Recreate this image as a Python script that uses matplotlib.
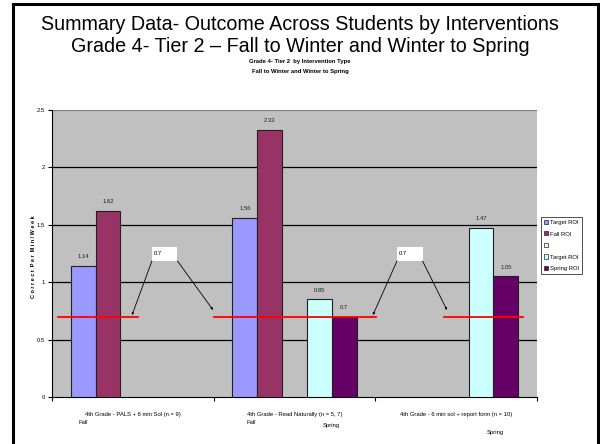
import numpy as np
import matplotlib
matplotlib.use('Agg')
import matplotlib.pyplot as plt
from matplotlib.patches import Rectangle, Patch

plt.rcParams['font.family'] = ['Liberation Sans', 'DejaVu Sans']
narrow = ['Liberation Sans Narrow', 'DejaVu Sans Condensed', 'Liberation Sans']

# data
groups = ['4th Grade - PALS + 6 min Sol (n = 9)',
          '4th Grade - Read Naturally (n = 5, 7)',
          '4th Grade - 6 min sol + report form (n = 10)']
series_names = ['Target ROI', 'Fall ROI', '', 'Target ROI', 'Spring ROI']
target_fall = [1.14, 1.56, np.nan]
fall_roi = [1.62, 2.33, np.nan]
blank = [np.nan, np.nan, np.nan]
target_spring = [np.nan, 0.85, 1.47]
spring_roi = [np.nan, 0.70, 1.05]
benchmark = 0.7
colors = ['#9999FF', '#993366', '#FFFFCC', '#CCFFFF', '#660066']

fs = 4.2

fig = plt.figure(figsize=(6, 4.44), dpi=100)
ax = fig.add_axes([52/600, 47/444, 485/600, 287/444])
ax.set_facecolor('#C0C0C0')

x = np.arange(len(groups))
w = 0.1535
all_series = [target_fall, fall_roi, blank, target_spring, spring_roi]
for k, vals in enumerate(all_series):
    pos = x + (k - 2) * w
    ax.bar(pos, vals, w, color=colors[k], edgecolor='#202020', linewidth=0.8, zorder=3)
    for p, v in zip(pos, vals):
        if not np.isnan(v):
            ax.text(p, v + 0.06, '%g' % v, ha='center', va='bottom', fontstretch='condensed',
                    fontsize=fs, family=narrow, color='#202020', zorder=4)

# target lines
for x0, x1 in [(-0.463, 0.032), (0.502, 1.504), (1.924, 2.413)]:
    ax.plot([x0, x1], [benchmark, benchmark], color='#FF0000', lw=1.3, zorder=5)

# "0.7" callouts
for bx, targets in [(0.118, [(-0.005, 0.714), (0.496, 0.758)]),
                    (1.634, [(1.485, 0.714), (1.943, 0.758)])]:
    bw, by, bh = 0.158, 1.185, 0.122
    ax.add_patch(Rectangle((bx, by), bw, bh, facecolor='white', edgecolor='none', zorder=6))
    ax.text(bx + 0.012, by + bh * 0.55, '%g' % benchmark, fontsize=fs, family=narrow,
            fontstretch='condensed', va='center', ha='left', zorder=7)
    for (tx, ty), sx in zip(targets, [bx, bx + bw]):
        ax.annotate('', xy=(tx, ty), xytext=(sx, by),
                    arrowprops=dict(arrowstyle='-|>', lw=0.6, color='black',
                                    mutation_scale=3, shrinkA=0, shrinkB=0), zorder=6)

ax.set_xlim(-0.5, 2.5)
ax.set_ylim(0, 2.5)
ax.set_yticks([0, 0.5, 1, 1.5, 2, 2.5])
ax.set_yticklabels(['0', '0.5', '1', '1.5', '2', '2.5'], fontsize=fs, family=narrow,
                   fontstretch='condensed')
ax.set_xticks([-0.5, 0.5, 1.5, 2.5])
ax.set_xticklabels([])
ax.tick_params(length=3, width=0.8, pad=2)
for y in [0.5, 1, 1.5, 2]:
    ax.axhline(y, color='black', lw=0.9, zorder=1)
ax.axhline(2.5, color='#808080', lw=0.9, zorder=1)
ax.spines['top'].set_visible(False)
ax.spines['right'].set_visible(False)
ax.spines['left'].set_linewidth(0.8)
ax.spines['bottom'].set_linewidth(0.8)

ax.text(-0.039, 0.488, 'C o r r e c t  P e r  M i n / W e e k', transform=ax.transAxes,
        rotation=90, ha='center', va='center', fontsize=4, fontweight='bold',
        family=narrow, fontstretch='condensed')

# category labels
for xi, g in zip(x, groups):
    ax.text(xi, -0.15, g, ha='center', va='center', fontsize=fs, family=narrow,
            fontstretch='condensed')
for xp, yp, lab in [(-0.31, -0.22, 'Fall'), (0.73, -0.22, 'Fall'),
                    (1.23, -0.25, 'Spring'), (2.24, -0.31, 'Spring')]:
    ax.text(xp, yp, lab, ha='center', va='center', fontsize=fs, family=narrow,
            fontstretch='condensed')

# legend
handles = [Patch(facecolor=c, edgecolor='#202020', linewidth=0.5) for c in colors]
leg = fig.legend(handles, series_names, loc='upper left', bbox_to_anchor=(541/600, 1 - 217/444),
                 prop={'family': narrow, 'size': fs, 'stretch': 'condensed'}, frameon=True,
                 fancybox=False, edgecolor='black', handlelength=0.7, handleheight=0.7,
                 handletextpad=0.3, labelspacing=1.1, borderpad=0.5, borderaxespad=0)
leg.get_frame().set_linewidth(0.6)

# titles
fig.text(0.5, 1 - 24/444, 'Summary Data- Outcome Across Students by Interventions',
         ha='center', va='center', fontsize=14.2)
fig.text(0.5, 1 - 47/444, 'Grade 4- Tier 2 \u2013 Fall to Winter and Winter to Spring',
         ha='center', va='center', fontsize=14.2)
fig.text(0.5, 1 - 62/444, 'Grade 4- Tier 2  by Intervention Type', ha='center', va='center',
         fontsize=fs, fontweight='bold', family=narrow, fontstretch='condensed')
fig.text(0.5, 1 - 72/444, 'Fall to Winter and Winter to Spring', ha='center', va='center',
         fontsize=fs, fontweight='bold', family=narrow, fontstretch='condensed')

# slide frame
fig.patches.append(Rectangle((12.5/600, -0.05), 585/600, 1.05 - 4.5/444, transform=fig.transFigure,
                             fill=False, edgecolor='black', lw=2.2))

fig.savefig('out.png', dpi=100)
